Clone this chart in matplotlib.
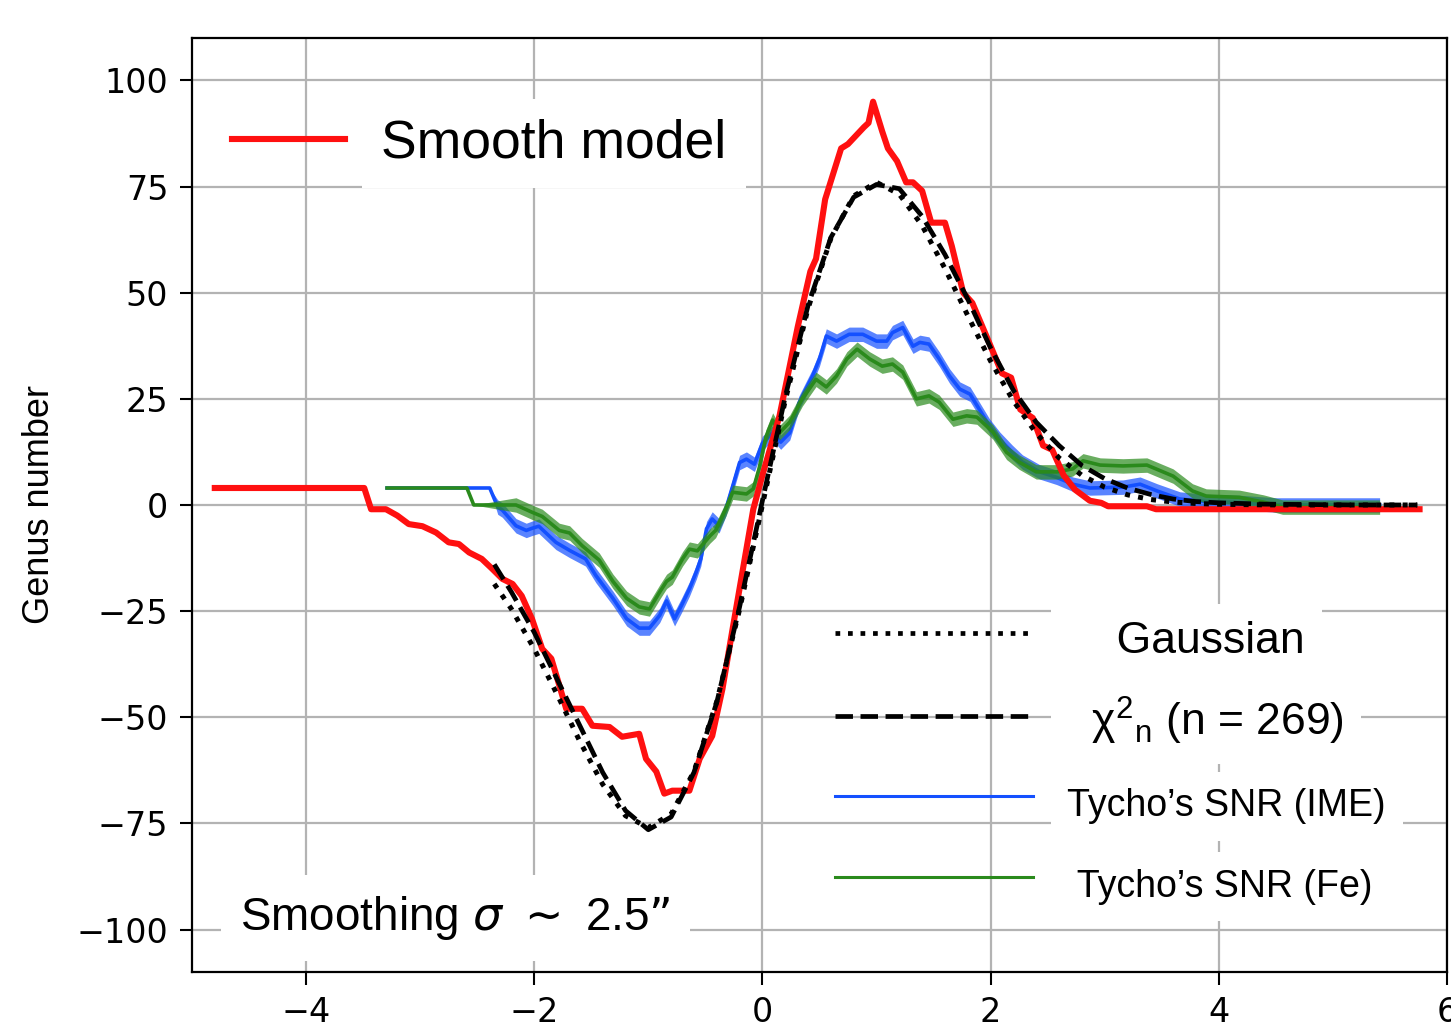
import numpy as np
import matplotlib
matplotlib.use('Agg')
import matplotlib.pyplot as plt
from matplotlib.lines import Line2D

# values
red_x = [-4.8, -3.49, -3.43, -3.3, -3.2, -3.1, -2.98, -2.86, -2.75, -2.66, -2.57, -2.46,
         -2.37, -2.28, -2.19, -2.11, -2.02, -1.93, -1.85, -1.78, -1.72, -1.58, -1.49, -1.34,
         -1.23, -1.08, -1.02, -0.93, -0.86, -0.79, -0.64, -0.55, -0.44, -0.35, -0.26, -0.17,
         -0.08, 0.0, 0.15, 0.31, 0.42, 0.47, 0.55, 0.69, 0.75, 0.89, 0.93, 0.97, 1.05, 1.1,
         1.18, 1.26, 1.32, 1.4, 1.48, 1.6, 1.66, 1.76, 1.84, 1.96, 2.1, 2.18, 2.26, 2.37,
         2.46, 2.54, 2.64, 2.74, 2.87, 2.97, 3.03, 3.37, 3.45, 5.76]
red_y = [4, 4, -1, -1, -2.5, -4.5, -5, -6.5, -8.8, -9.2, -11.2, -12.7,
         -15, -17.4, -18.6, -21.4, -26.8, -33.9, -36.2, -42.5, -48, -48, -52, -52.3,
         -54.6, -53.9, -59.8, -62.8, -68, -67.3, -67.3, -59.8, -54.4, -43.3, -29, -15,
         -1, 7, 21, 42, 55, 58, 72, 84, 85, 89, 90, 95, 88, 84,
         81, 76, 76, 74, 66.5, 66.5, 61, 50, 47.6, 40, 31, 30, 22.5, 20.5,
         14, 13, 7, 3.6, 1, 0.5, -0.3, -0.3, -1, -1]

blue_x = [-3.29, -2.39, -2.32, -2.28, -2.16, -2.07, -2.02, -1.96, -1.81, -1.69, -1.55, -1.46,
          -1.31, -1.19, -1.08, -0.99, -0.9, -0.84, -0.77, -0.71, -0.64, -0.58, -0.54, -0.49,
          -0.44, -0.38, -0.32, -0.26, -0.2, -0.14, -0.07, 0.0, 0.09, 0.16, 0.24, 0.32, 0.44,
          0.5, 0.56, 0.65, 0.76, 0.88, 1.0, 1.09, 1.14, 1.23, 1.32, 1.38, 1.46, 1.55, 1.64,
          1.73, 1.82, 1.9, 1.99, 2.08, 2.19, 2.28, 2.43, 2.58, 2.72, 2.87, 3.16, 3.31, 3.46,
          3.66, 3.89, 4.18, 4.5, 5.41]
blue_y = [4, 4, -0.5, -1.2, -4.9, -6, -5.5, -5, -8.8, -10.7, -12.7, -16.6,
          -22, -26.8, -29, -29, -26, -22.6, -26.8, -23.7, -19.8, -15.8, -12.7, -5.6,
          -3.3, -4.9, -0.9, 4.5, 10, 10.8, 9.6, 14.5, 17, 14.8, 17, 24, 30.4,
          34.4, 39.8, 38.6, 40.2, 40.2, 38.6, 38.6, 40.6, 41.8, 37.4, 38.3, 37.9, 34.4, 30.4,
          27.3, 26.1, 22.6, 18.6, 15.5, 12.4, 10.1, 7.8, 6.5, 4.9, 4, 4.2, 4.9, 3.3,
          1.4, 0.8, 0.6, 0, 0]

green_x = [-3.29, -2.59, -2.53, -2.16, -2.02, -1.93, -1.78, -1.69, -1.58, -1.43, -1.31, -1.19,
           -1.08, -0.99, -0.9, -0.84, -0.79, -0.7, -0.64, -0.57, -0.46, -0.41, -0.32, -0.26,
           -0.14, -0.08, -0.03, 0.03, 0.09, 0.15, 0.24, 0.35, 0.47, 0.56, 0.65, 0.74, 0.83,
           0.94, 1.05, 1.14, 1.23, 1.35, 1.46, 1.55, 1.67, 1.79, 1.88, 2.02, 2.14, 2.25, 2.4,
           2.58, 2.72, 2.81, 2.96, 3.16, 3.37, 3.6, 3.77, 3.89, 4.18, 4.39, 4.56, 5.41]
green_y = [4, 4, 0, 0, -1.7, -2.7, -6, -6.6, -9.6, -13, -18, -22,
           -24, -24.5, -20.5, -18, -17, -12.7, -10.4, -10.8, -7.3, -6, -0.9, 3,
           2.6, 3.8, 8.5, 16, 20, 17, 19.5, 25, 29.6, 27.8, 30.4, 34.4, 36.7,
           34.4, 32.7, 33.2, 31.3, 25, 25.7, 24.2, 20.2, 21, 20.7, 17.2, 12.4, 10.1, 7.8,
           7.8, 8.5, 10.4, 9.4, 9.2, 9.4, 6.8, 3.3, 2.1, 1.8, 0.7, -0.5, -0.5]

theo_x = [-2.35, -2.2, -2.0, -1.8, -1.6, -1.4, -1.2, -1.0, -0.8, -0.6, -0.4, -0.2, 0.0,
          0.2, 0.4, 0.6, 0.8, 1.0, 1.2, 1.4, 1.6, 1.8, 2.0, 2.2, 2.4, 2.6, 2.8, 3.0,
          3.2, 3.4, 3.6, 3.8, 4.0, 4.4, 4.8, 5.2, 5.74]
gauss_y = [-18.6, -24.5, -33.9, -44.6, -55.7, -65.8, -73.2, -76.0, -72.8, -62.8, -46.3, -24.6, 0.0,
           24.6, 46.3, 62.8, 72.8, 76.0, 73.2, 65.8, 55.7, 44.6, 33.9, 24.5, 16.9, 11.1, 7.0, 4.2,
           2.4, 1.3, 0.7, 0.35, 0.17, 0.03, 0.0, 0.0, 0.0]
chi2_y = [-14.0, -20.5, -30.0, -41.0, -52.0, -63.0, -72.0, -76.5, -73.5, -63.0, -46.5, -24.0, 1.0,
          25.5, 47.0, 63.0, 72.5, 75.5, 74.5, 68.0, 59.0, 48.5, 37.0, 27.0, 19.5, 14.0, 9.3, 6.2,
          4.0, 2.5, 1.4, 0.8, 0.5, 0.2, 0.1, 0.0, 0.0]

y_ticks = [-100, -75, -50, -25, 0, 25, 50, 75, 100]

RED = '#ff1010'
BLUE = '#1450ff'
GREEN = '#2a8a1c'
TXT = 'Liberation Sans'

fig = plt.figure(figsize=(14.51, 10.27), dpi=100)
ax = fig.add_axes([0.1323, 0.0536, 0.8649, 0.9094])

ax.grid(True, color='#b3b3b3', lw=1.6, zorder=0)
ax.set_axisbelow(True)

for xs, ys, col, start in [(blue_x, blue_y, BLUE, -2.33), (green_x, green_y, GREEN, -2.2)]:
    xs = np.array(xs)
    ys = np.array(ys)
    band = np.where(xs > start, 1.7, 0.0)
    ax.fill_between(xs, ys - band, ys + band, color=col, alpha=0.7, lw=0, zorder=2)
    ax.plot(xs, ys, color=col, lw=2.6, zorder=2)

ax.plot(red_x, red_y, color=RED, lw=4.4, zorder=3)
ax.plot(theo_x, gauss_y, color='black', lw=3.6, ls=':', zorder=4)
ax.plot(theo_x, chi2_y, color='black', lw=3.4, ls='--', zorder=4)

ax.set_xlim(-5, 6)
ax.set_ylim(-110, 110)
ax.set_yticks(y_ticks)
ax.tick_params(labelsize=24, length=9, width=1.5, pad=8)
for s in ax.spines.values():
    s.set_linewidth(1.6)
ax.set_ylabel('Genus number', family=TXT, fontsize=26, labelpad=14)

# upper-left legend
h1 = [Line2D([], [], color=RED, lw=4.4)]
leg1 = ax.legend(h1, ['Smooth model'], loc='center left', bbox_to_anchor=(0.032, 0.887),
                 frameon=False, prop={'family': TXT, 'size': 38.5}, handlelength=2.12,
                 handletextpad=0.67, borderpad=0, borderaxespad=0)
for t in leg1.get_texts():
    t.set_bbox(dict(facecolor='white', edgecolor='none', pad=14))
ax.add_artist(leg1)

# lower-right legend
h2 = [Line2D([], [], color='black', lw=3.4, ls=':'),
      Line2D([], [], color='black', lw=3.4, ls='--'),
      Line2D([], [], color=BLUE, lw=2.2),
      Line2D([], [], color=GREEN, lw=2.2)]
labels2 = ['    Gaussian', r'  χ$^\mathregular{2}$$_\mathregular{n}$ (n = 269)',
           "Tycho’s SNR (IME)", " Tycho’s SNR (Fe)"]
leg2 = ax.legend(h2, labels2, loc='center left', bbox_to_anchor=(0.512, 0.2232),
                 frameon=False, prop={'family': TXT, 'size': 26}, handlelength=5.5,
                 handleheight=2.0, handletextpad=0.95, labelspacing=0.69,
                 borderpad=0, borderaxespad=0)
for t, fs in zip(leg2.get_texts(), [32, 32, 27, 27]):
    t.set_fontsize(fs)
    t.set_bbox(dict(facecolor='white', edgecolor='none', pad=12))

ax.text(0.2096, 0.058, 'Smoothing $\\sigma\\ \\sim$ 2.5”', transform=ax.transAxes,
        family=TXT, fontsize=33, ha='center', va='center', zorder=5,
        bbox=dict(facecolor='white', edgecolor='none', pad=14))

fig.savefig('out.png', dpi=100)
